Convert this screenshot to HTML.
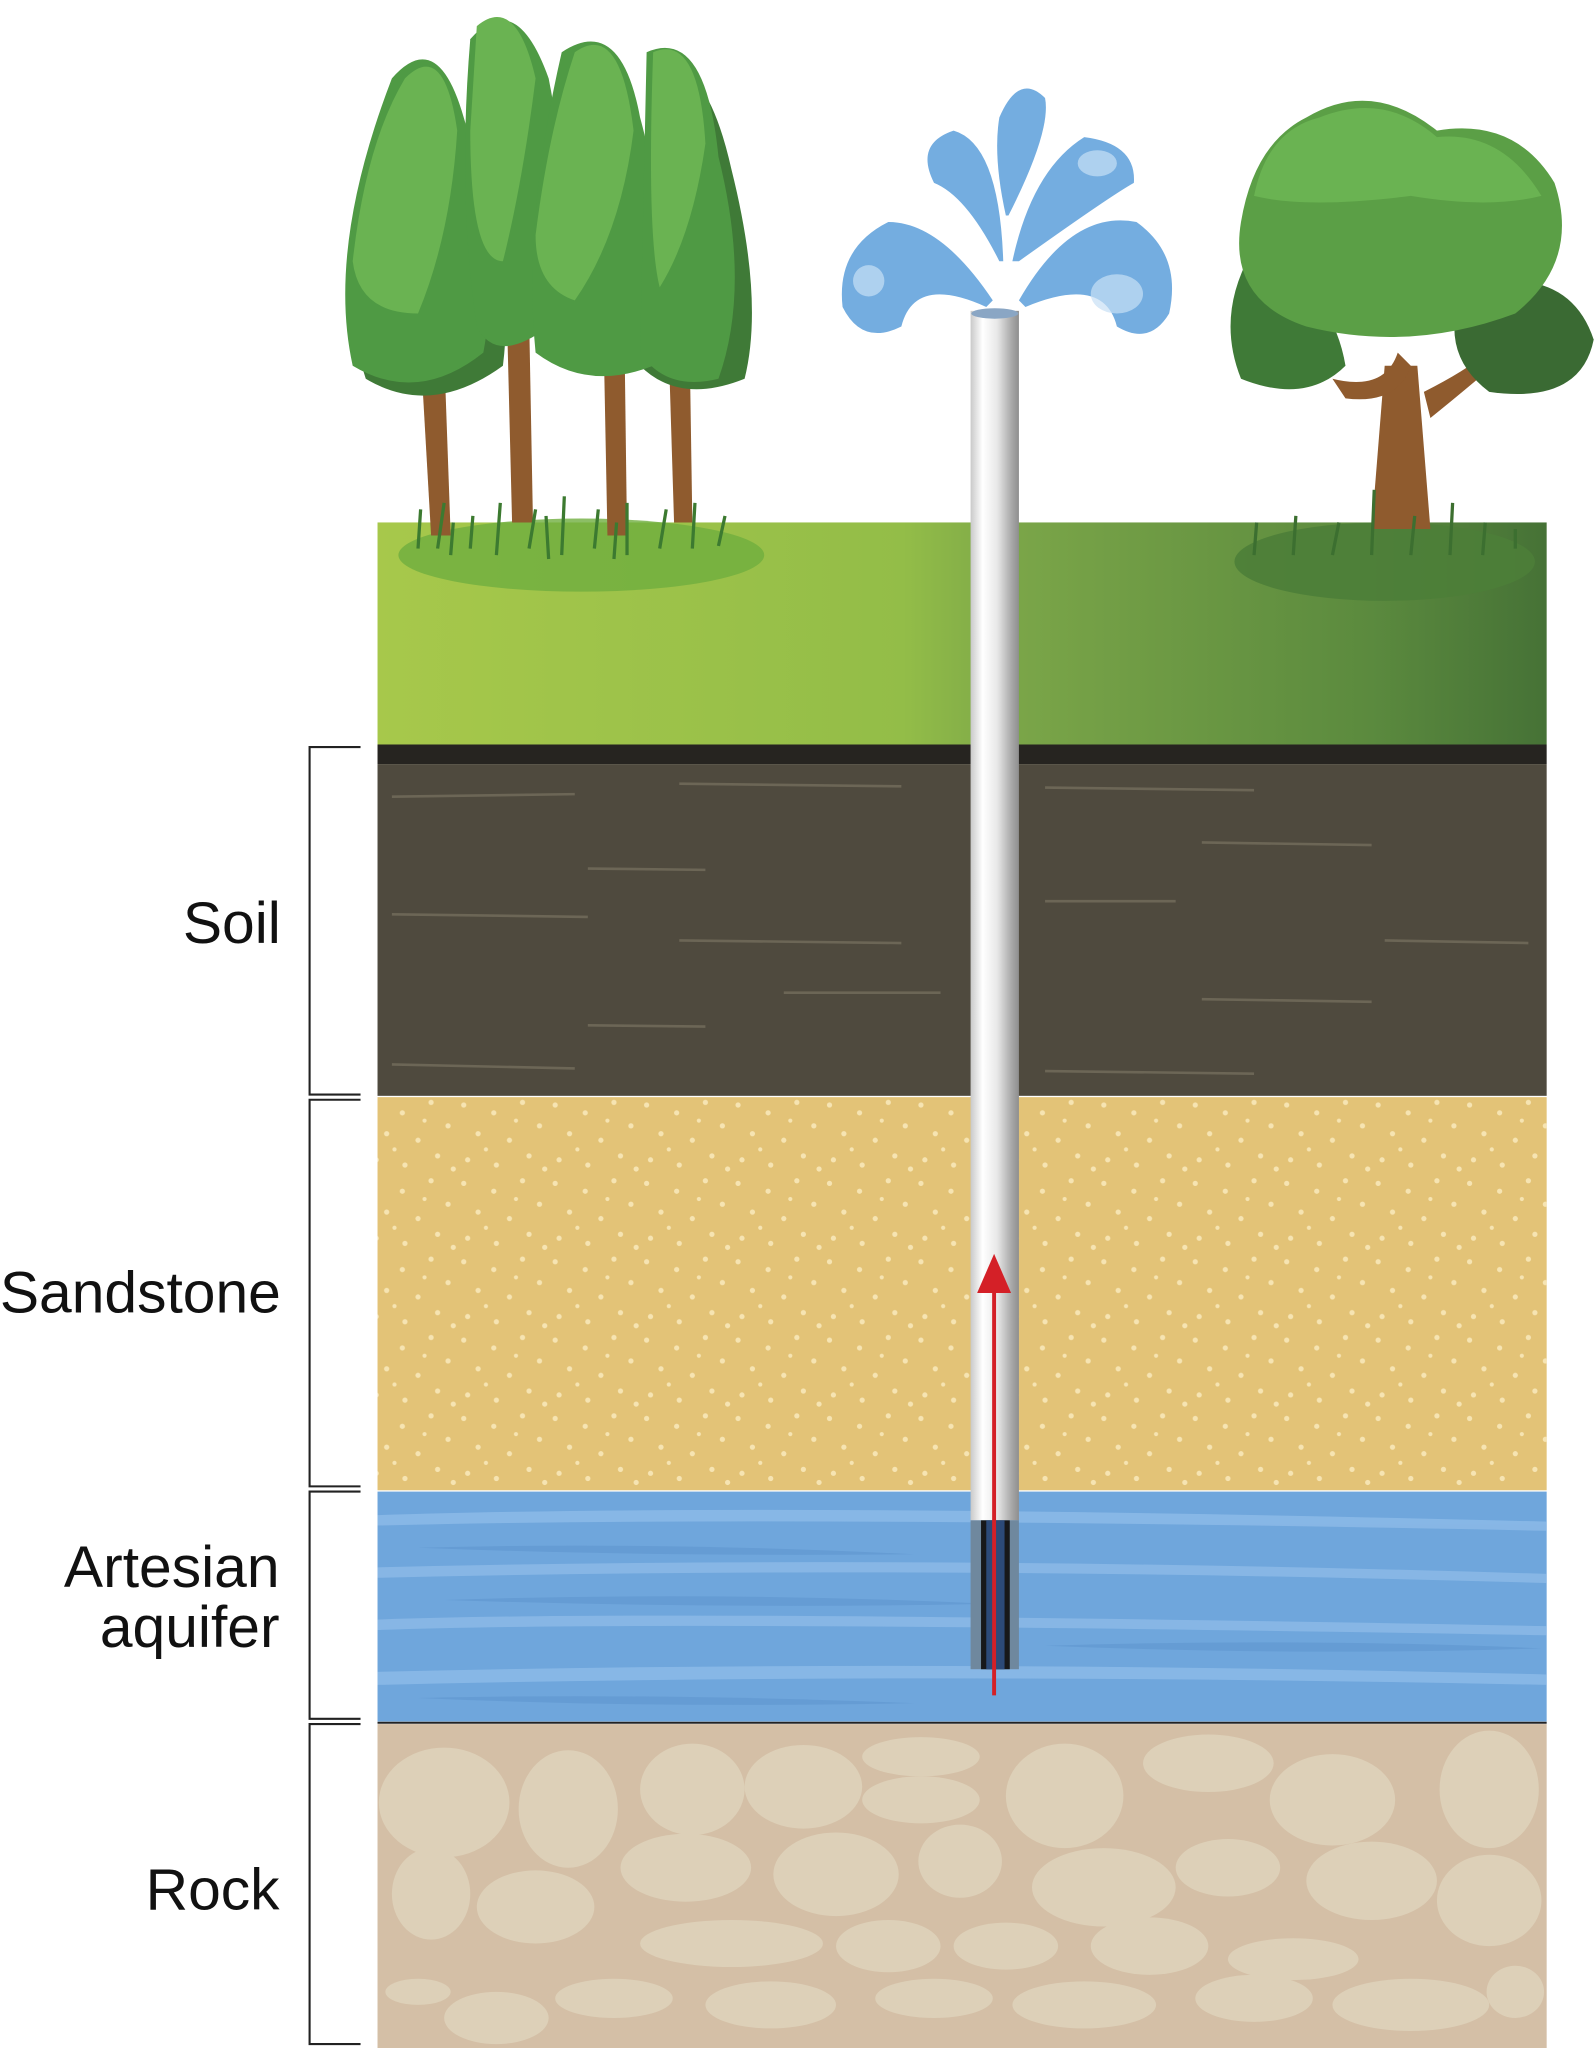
<!DOCTYPE html>
<html><head><meta charset="utf-8"><style>
html,body{margin:0;padding:0;background:#fff;}
svg{display:block;}
</style></head><body>
<svg width="1595" height="2048" viewBox="0 0 1221 1568" preserveAspectRatio="none" xmlns="http://www.w3.org/2000/svg">
<defs>
<linearGradient id="grass" x1="0" x2="1" y1="0" y2="0">
<stop offset="0" stop-color="#a7c84b"/><stop offset="0.45" stop-color="#93bd48"/><stop offset="0.55" stop-color="#7aa548"/><stop offset="0.85" stop-color="#5b8a3e"/><stop offset="1" stop-color="#467236"/>
</linearGradient>
<linearGradient id="pipe" x1="0" x2="1">
<stop offset="0" stop-color="#c9c9c9"/><stop offset="0.25" stop-color="#ffffff"/><stop offset="0.55" stop-color="#e8e8e8"/><stop offset="0.85" stop-color="#a8a8a8"/><stop offset="1" stop-color="#8e8e8e"/>
</linearGradient>
<pattern id="sand" width="70" height="60" patternUnits="userSpaceOnUse">
<g fill="#f6e4b2">
<circle cx="5" cy="6" r="2"/><circle cx="28" cy="12" r="2"/><circle cx="50" cy="4" r="2"/><circle cx="63" cy="22" r="2"/><circle cx="16" cy="28" r="2"/><circle cx="40" cy="33" r="2"/><circle cx="8" cy="48" r="2"/><circle cx="30" cy="52" r="2"/><circle cx="55" cy="45" r="2"/><circle cx="67" cy="55" r="2"/><circle cx="45" cy="18" r="1.6"/><circle cx="22" cy="40" r="1.6"/>
</g>
</pattern>
</defs>

<rect x="289" y="400" width="895" height="170" fill="url(#grass)"/>
<ellipse cx="445" cy="425" rx="140" ry="28" fill="#6fae3e" opacity="0.8"/>
<ellipse cx="1060" cy="430" rx="115" ry="30" fill="#4d7e38" opacity="0.9"/>
<rect x="289" y="570" width="895" height="15" fill="#262420"/>
<rect x="289" y="585" width="895" height="254" fill="#4f4a3e"/>
<g stroke="#6c6656" stroke-width="2">
<line x1="300" y1="610" x2="440" y2="608"/><line x1="520" y1="600" x2="690" y2="602"/><line x1="800" y1="603" x2="960" y2="605"/>
<line x1="450" y1="665" x2="540" y2="666"/><line x1="920" y1="645" x2="1050" y2="647"/><line x1="300" y1="700" x2="450" y2="702"/>
<line x1="520" y1="720" x2="690" y2="722"/><line x1="800" y1="690" x2="900" y2="690"/><line x1="920" y1="765" x2="1050" y2="767"/>
<line x1="450" y1="785" x2="540" y2="786"/><line x1="300" y1="815" x2="440" y2="818"/><line x1="800" y1="820" x2="960" y2="822"/>
<line x1="1060" y1="720" x2="1170" y2="722"/><line x1="600" y1="760" x2="720" y2="760"/>
</g>
<rect x="289" y="840" width="895" height="301" fill="#e3c377"/>
<rect x="289" y="840" width="895" height="301" fill="url(#sand)"/>
<rect x="289" y="1142" width="895" height="176" fill="#6fa6dc"/>
<g fill="#8dbbe8" opacity="0.8">
<path d="M289 1160 Q600 1150 1184 1165 L1184 1172 Q600 1160 289 1168Z"/>
<path d="M289 1200 Q700 1190 1184 1205 L1184 1212 Q700 1198 289 1208Z"/>
<path d="M289 1240 Q500 1232 1184 1245 L1184 1252 Q500 1240 289 1248Z"/>
<path d="M289 1280 Q700 1270 1184 1282 L1184 1290 Q700 1280 289 1290Z"/>
</g>
<g fill="#5f96cf" opacity="0.6">
<path d="M320 1185 Q500 1180 700 1190 Q500 1192 320 1185Z"/>
<path d="M340 1225 Q550 1218 760 1228 Q550 1232 340 1225Z"/>
<path d="M800 1260 Q1000 1254 1180 1262 Q1000 1268 800 1260Z"/>
<path d="M320 1300 Q500 1296 700 1304 Q500 1308 320 1300Z"/>
</g>
<line x1="289" y1="1319" x2="1184" y2="1319" stroke="#222" stroke-width="1.5"/>
<rect x="289" y="1320" width="895" height="248" fill="#d4bfa6"/>
<g fill="#ddd0b8">
<ellipse cx="340" cy="1380" rx="50" ry="42"/><ellipse cx="435" cy="1385" rx="38" ry="45"/><ellipse cx="530" cy="1370" rx="40" ry="35"/>
<ellipse cx="615" cy="1368" rx="45" ry="32"/><ellipse cx="705" cy="1345" rx="45" ry="15"/><ellipse cx="705" cy="1378" rx="45" ry="18"/>
<ellipse cx="815" cy="1375" rx="45" ry="40"/><ellipse cx="925" cy="1350" rx="50" ry="22"/><ellipse cx="1020" cy="1378" rx="48" ry="35"/>
<ellipse cx="1140" cy="1370" rx="38" ry="45"/><ellipse cx="330" cy="1450" rx="30" ry="35"/><ellipse cx="410" cy="1460" rx="45" ry="28"/>
<ellipse cx="525" cy="1430" rx="50" ry="26"/><ellipse cx="640" cy="1435" rx="48" ry="32"/><ellipse cx="735" cy="1425" rx="32" ry="28"/>
<ellipse cx="845" cy="1445" rx="55" ry="30"/><ellipse cx="940" cy="1430" rx="40" ry="22"/><ellipse cx="1050" cy="1440" rx="50" ry="30"/>
<ellipse cx="1140" cy="1455" rx="40" ry="35"/><ellipse cx="560" cy="1488" rx="70" ry="18"/><ellipse cx="680" cy="1490" rx="40" ry="20"/>
<ellipse cx="770" cy="1490" rx="40" ry="18"/><ellipse cx="880" cy="1490" rx="45" ry="22"/><ellipse cx="990" cy="1500" rx="50" ry="16"/>
<ellipse cx="320" cy="1525" rx="25" ry="10"/><ellipse cx="380" cy="1545" rx="40" ry="20"/><ellipse cx="470" cy="1530" rx="45" ry="15"/>
<ellipse cx="590" cy="1535" rx="50" ry="18"/><ellipse cx="715" cy="1530" rx="45" ry="15"/><ellipse cx="830" cy="1535" rx="55" ry="18"/>
<ellipse cx="960" cy="1530" rx="45" ry="18"/><ellipse cx="1080" cy="1535" rx="60" ry="20"/><ellipse cx="1160" cy="1525" rx="22" ry="20"/>
</g>

<g>
<g fill="#8f5b2e">
<path d="M322 270 L340 270 L345 410 L330 410Z"/><path d="M388 240 L405 240 L408 400 L392 400Z"/>
<path d="M462 255 L478 255 L480 410 L465 410Z"/><path d="M512 270 L528 270 L530 400 L516 400Z"/>
</g>
<g fill="#3f7a37">
<path d="M300 70 Q340 30 360 110 Q395 200 385 280 Q330 320 280 290 Q250 200 300 70Z"/>
<path d="M500 50 Q540 40 560 130 Q585 230 570 290 Q520 310 490 280 Z"/>
</g>
<g fill="#4f9a44">
<path d="M300 60 Q335 20 355 90 Q385 190 370 270 Q320 310 270 280 Q250 190 300 60Z"/>
<path d="M360 30 Q395 -10 420 60 Q440 160 420 250 Q380 280 365 250 Q350 150 360 30Z"/>
<path d="M430 40 Q475 10 490 90 Q520 200 500 280 Q450 300 410 270 Q400 170 430 40Z"/>
<path d="M495 40 Q540 20 550 120 Q575 220 550 290 Q510 300 490 270 Z"/>
</g>
<g fill="#6ab352">
<path d="M310 60 Q340 30 350 100 Q345 180 320 240 Q275 240 270 200 Q280 110 310 60Z"/>
<path d="M365 20 Q395 -5 410 60 Q400 140 385 200 Q360 200 360 100Z"/>
<path d="M440 40 Q475 15 485 100 Q475 180 440 230 Q410 220 410 180 Q420 100 440 40Z"/>
<path d="M500 40 Q535 25 540 110 Q530 180 505 220 Q495 180 500 40Z"/>
</g>
<g stroke="#3c7a30" stroke-width="2.5" fill="none">
<path d="M320 420 L322 390 M335 420 L340 385 M360 420 L362 395 M380 425 L383 385 M405 420 L410 390 M430 425 L432 380 M455 420 L458 390 M480 425 L480 385 M505 420 L510 390 M530 420 L532 385 M550 418 L555 395 M345 425 L347 400 M470 428 L472 400 M420 428 L418 395"/>
</g>
</g>

<g>
<path d="M1060 280 L1085 280 L1095 405 L1050 405Z" fill="#8f5b2e"/>
<path d="M1020 290 Q1060 300 1070 270 L1080 280 Q1070 310 1030 305Z" fill="#8f5b2e"/>
<path d="M1090 300 Q1130 280 1150 260 L1155 270 Q1120 300 1095 320Z" fill="#8f5b2e"/>
<path d="M960 190 Q930 240 950 290 Q1000 310 1030 280 Q1020 220 960 190Z" fill="#3f7a37"/>
<path d="M1120 220 Q1200 200 1220 260 Q1210 310 1140 300 Q1100 270 1120 220Z" fill="#3a6a33"/>
<path d="M1000 90 Q1050 60 1100 100 Q1160 90 1190 140 Q1210 200 1160 240 Q1080 270 1000 250 Q940 230 950 170 Q960 110 1000 90Z" fill="#5b9f46"/>
<path d="M1010 90 Q1060 70 1100 105 Q1150 100 1180 150 Q1140 160 1080 150 Q1000 160 960 150 Q970 100 1010 90Z" fill="#6ab352"/>
<g stroke="#3c6f30" stroke-width="2.5" fill="none">
<path d="M960 425 L962 400 M990 425 L992 395 M1020 425 L1025 400 M1050 425 L1052 375 M1080 425 L1083 395 M1110 425 L1112 385 M1135 425 L1137 400 M1160 420 L1160 405"/>
</g>
</g>

<g fill="#74ade0">
<path d="M760 230 Q720 170 680 170 Q640 190 645 235 Q660 265 690 250 Q700 210 755 235Z"/>
<path d="M780 230 Q820 160 870 170 Q905 195 895 240 Q880 265 855 250 Q845 210 785 235Z"/>
<path d="M765 200 Q740 150 715 140 Q700 110 730 100 Q765 110 768 200Z"/>
<path d="M775 200 Q790 130 830 105 Q870 110 868 140 Q850 150 780 200Z"/>
<path d="M770 165 Q760 120 765 90 Q780 55 800 75 Q805 100 772 165Z"/>
</g>
<g fill="#c8e0f5" opacity="0.7">
<ellipse cx="855" cy="225" rx="20" ry="15"/><ellipse cx="665" cy="215" rx="12" ry="12"/><ellipse cx="840" cy="125" rx="15" ry="10"/>
</g>

<rect x="743" y="238" width="37" height="926" fill="url(#pipe)"/>
<ellipse cx="761.5" cy="240" rx="18" ry="4" fill="#8aa6c4"/>
<rect x="743" y="1164" width="37" height="114" fill="#6f889e"/>
<rect x="751" y="1164" width="22" height="114" fill="#17181a"/>
<rect x="755" y="1164" width="14" height="114" fill="#2c4a78"/>
<line x1="761" y1="985" x2="761" y2="1298" stroke="#d42027" stroke-width="3"/>
<path d="M748 990 L761 960 L774 990Z" fill="#d42027"/>

<g stroke="#222" stroke-width="1.6" fill="none">
<path d="M276 572 L237 572 L237 838 L276 838"/>
<path d="M276 842 L237 842 L237 1138 L276 1138"/>
<path d="M276 1142 L237 1142 L237 1316 L276 1316"/>
<path d="M276 1320 L237 1320 L237 1565 L276 1565"/>
</g>
<g font-family="Liberation Sans, sans-serif" font-size="45" fill="#111" text-anchor="end">
<text x="215" y="722">Soil</text>
<text x="215" y="1005">Sandstone</text>
<text x="214" y="1215">Artesian</text>
<text x="214" y="1261">aquifer</text>
<text x="214" y="1462">Rock</text>
</g>
</svg>
</body></html>
